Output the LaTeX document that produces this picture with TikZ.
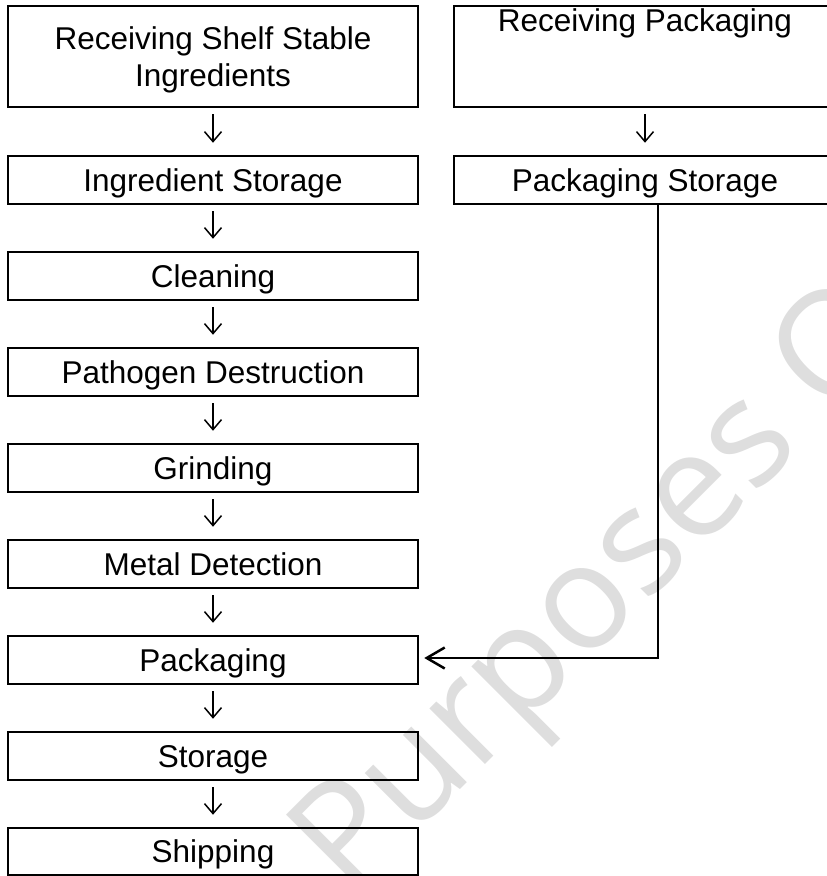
\documentclass[tikz,border=0pt]{standalone}
\usepackage{fontspec}
\setmainfont{Liberation Sans}
\newfontfamily\wmfont{Open Sans}
\usetikzlibrary{arrows.meta}
\begin{document}
\begin{tikzpicture}[x=1pt,y=-1pt,
  txt/.style={font=\fontsize{31.5}{37}\selectfont},
  box/.style={txt, draw, line width=2.5pt, minimum width=410pt, inner sep=0pt,
    align=center, text depth=0pt},
  flow/.style={line width=1.5pt, -{Straight Barb[length=10pt,width=17pt]},
    shorten <=6pt, shorten >=12pt},
  feed/.style={line width=2.5pt, -{Straight Barb[length=18pt,width=21pt]},
    shorten >=5pt},
  wm/.style={text=black!13, font=\wmfont\fontsize{147}{147}\selectfont, inner sep=0pt}]
\useasboundingbox (0,0) rectangle (827,876);
\clip (0,0) rectangle (827,876);
% watermark
\node[wm, rotate=45, anchor=base west] (wm) at (350,900) {Purposes Only};
% left column
\node[box, minimum height=101pt] (rs) at (213,56.5) {Receiving Shelf Stable\\Ingredients};
\node[box, minimum height=48pt] (is) at (213,180) {Ingredient Storage};
\node[box, minimum height=48pt] (cl) at (213,276) {Cleaning};
\node[box, minimum height=48pt] (pd) at (213,372) {Pathogen Destruction};
\node[box, minimum height=48pt] (gr) at (213,468) {Grinding};
\node[box, minimum height=48pt] (md) at (213,564) {Metal Detection};
\node[box, minimum height=48pt] (pk) at (213,660) {Packaging};
\node[box, minimum height=48pt] (st) at (213,756) {Storage};
\node[box, minimum height=47pt] (sh) at (213,851.5) {Shipping};
% right column
\node[box, minimum height=101pt, minimum width=382pt] (rp) at (645,56.5) {};
\node[txt, anchor=north, inner sep=0pt] (rpt) at ([yshift=-3.5pt]rp.north) {Receiving Packaging};
\node[box, minimum height=48pt, minimum width=382pt] (ps) at (645,180) {Packaging Storage};
% connectors
\foreach \a/\b in {rs/is, is/cl, cl/pd, pd/gr, gr/md, md/pk, pk/st, st/sh, rp/ps}
  \draw[flow] (\a) -- (\b);
\coordinate (j) at (658,658);
\draw[feed] (ps.south -| j) -- (j) -- (j -| pk.east);
\end{tikzpicture}
\end{document}
